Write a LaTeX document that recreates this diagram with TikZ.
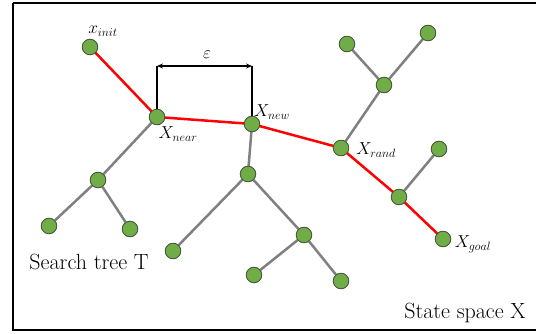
\documentclass[tikz,border=0pt]{standalone}
\usetikzlibrary{arrows.meta}
\definecolor{leafgreen}{RGB}{112,173,71}
\definecolor{rimgray}{RGB}{70,85,60}
\definecolor{branchgray}{RGB}{128,128,128}
\begin{document}
\begin{tikzpicture}[x=1pt,y=-1pt,
  vert/.style={circle,draw=rimgray,line width=0.7pt,fill=leafgreen,minimum size=15.5pt,inner sep=0pt},
  treeedge/.style={draw=branchgray,line width=2.5pt},
  pathedge/.style={draw=red,line width=2.5pt},
  mlabel/.style={font=\fontsize{18}{21}\selectfont,inner sep=0pt},
  caption/.style={font=\fontsize{22}{26}\selectfont,inner sep=0pt},
  dim/.style={draw=black,line width=1.2pt}]
\useasboundingbox (0,0) rectangle (536,334);
\fill[white] (0,0) rectangle (536,334);
\draw[line width=2.8pt] (13,3) -- (545,3) (13,3) -- (13,330) -- (545,330);

% nodes of the tree
\node[vert] (init) at (90,47) {};
\node[vert] (near) at (157,117) {};
\node[vert] (new)  at (252,124) {};
\node[vert] (rand) at (341,148) {};
\node[vert] (mid)  at (399,197) {};
\node[vert] (goal) at (443,239) {};
\node[vert] (rl)   at (439,149) {};
\node[vert] (up)   at (384,85) {};
\node[vert] (upl)  at (347,44) {};
\node[vert] (upr)  at (428,33) {};
\node[vert] (a)    at (98,180) {};
\node[vert] (a1)   at (49,226) {};
\node[vert] (a2)   at (130,229) {};
\node[vert] (b)    at (248,174) {};
\node[vert] (b1)   at (173,251) {};
\node[vert] (c)    at (304,235) {};
\node[vert] (c1)   at (254,275) {};
\node[vert] (c2)   at (341,281) {};

% step size bracket
\coordinate (e1) at (157,66);
\coordinate (e2) at (252,66);
\draw[dim] (near.center) -- (e1);
\draw[dim] (new.center) -- (e2);
\draw[dim,{Stealth[length=6pt,width=5pt]}-{Stealth[length=6pt,width=5pt]}] (e1) -- (e2);
\node[mlabel] (eps) at (207,55) {$\varepsilon$};

% edges
\path[treeedge] (near.center) -- (a.center) (a.center) -- (a1.center) (a.center) -- (a2.center)
  (new.center) -- (b.center) (b.center) -- (b1.center) (b.center) -- (c.center)
  (c.center) -- (c1.center) (c.center) -- (c2.center)
  (rand.center) -- (up.center) (up.center) -- (upl.center) (up.center) -- (upr.center)
  (mid.center) -- (rl.center);
\path[pathedge] (init.center) -- (near.center) -- (new.center) -- (rand.center) -- (mid.center) -- (goal.center);

% vertices drawn again over the edges
\foreach \n in {init,near,new,rand,mid,goal,rl,up,upl,upr,a,a1,a2,b,b1,c,c1,c2}
  \node[vert] at (\n) {};

% labels
\node[mlabel] (linit) at (103,31) {$x_{init}$};
\node[mlabel] (lnear) at (178,134) {$X_{near}$};
\node[mlabel] (lnew)  at (272,112) {$X_{new}$};
\node[mlabel] (lrand) at (376,150) {$X_{rand}$};
\node[mlabel] (lgoal) at (473,244) {$X_{goal}$};
\node[caption] (ttree) at (89,262) {Search tree T};
\node[caption] (tspace) at (465,313) {State space X};
\end{tikzpicture}
\end{document}
